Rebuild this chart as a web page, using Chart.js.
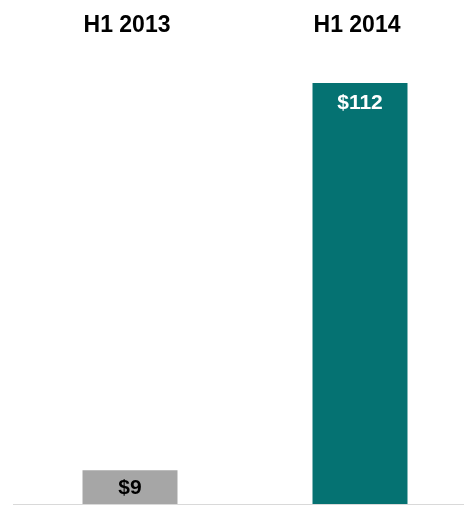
<!DOCTYPE html>
<html>
<head>
<meta charset="utf-8">
<script src="https://cdn.jsdelivr.net/npm/chart.js@4.4.1/dist/chart.umd.min.js"></script>
<style>
  html, body { margin: 0; padding: 0; background: #fff; overflow: hidden; }
  #wrap { width: 478px; height: 506px; }
</style>
</head>
<body>
<div id="wrap"><canvas id="myChart" width="478" height="506"></canvas></div>
<script>
const periods = ["H1 2013", "H1 2014"];
const amounts = [9, 112];
const amountLabels = ["$9", "$112"];
const barColors = ["#a6a6a6", "#057272"];
const labelColors = ["#000000", "#ffffff"];

// draws period names above, value labels inside bars and the baseline
const barText = {
  id: "barText",
  afterDatasetsDraw(chart) {
    const ctx = chart.ctx;
    const meta = chart.getDatasetMeta(0);
    const yScale = chart.scales.y;
    const base = yScale.getPixelForValue(0);

    ctx.save();
    ctx.strokeStyle = "#d9d9d9";
    ctx.lineWidth = 1;
    ctx.beginPath();
    ctx.moveTo(13, base + 0.5);
    ctx.lineTo(chart.width, base + 0.5);
    ctx.stroke();

    ctx.textAlign = "center";
    ctx.textBaseline = "middle";
    meta.data.forEach((bar, i) => {
      ctx.fillStyle = "#000";
      ctx.font = "bold 23px 'Liberation Sans', Arial, sans-serif";
      ctx.fillText(periods[i], bar.x - 3, 26);

      let y;
      if (i === 0) {
        y = (bar.y + bar.base) / 2 + 1;
      } else {
        y = bar.y + 20;
      }
      ctx.font = "bold 21px 'Liberation Sans', Arial, sans-serif";
      ctx.fillStyle = labelColors[i];
      ctx.fillText(amountLabels[i], bar.x, y);
    });
    ctx.restore();
  },
};

const ctx = document.getElementById("myChart").getContext("2d");
new Chart(ctx, {
  type: "bar",
  data: {
    labels: periods,
    datasets: [
      {
        data: amounts,
        backgroundColor: barColors,
        borderWidth: 0,
        categoryPercentage: 1,
        barPercentage: 0.413,
      },
    ],
  },
  options: {
    responsive: false,
    animation: false,
    layout: { padding: { left: 15, right: 3, top: 34, bottom: 2 } },
    plugins: {
      legend: { display: false },
      tooltip: { enabled: false },
    },
    scales: {
      x: { display: false },
      y: { display: false, min: 0, max: 125 },
    },
  },
  plugins: [barText],
});
</script>
</body>
</html>
